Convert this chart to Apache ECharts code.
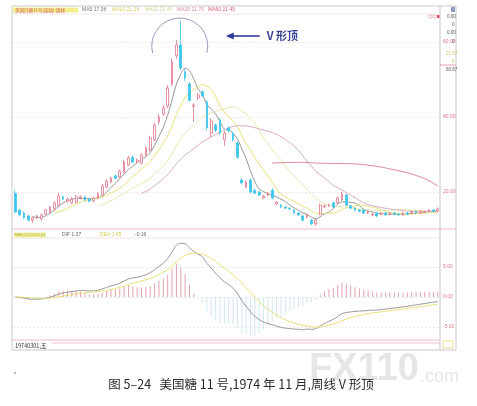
<!DOCTYPE html>
<html><head><meta charset="utf-8">
<script src="https://cdn.jsdelivr.net/npm/echarts@6/dist/echarts.min.js"></script>
<style>html,body{margin:0;padding:0;background:#fff}#c{width:477px;height:406px}</style>
</head><body><div id="c"></div>
<script>
const weeks = ["1974-03-01","1974-03-08","1974-03-15","1974-03-22","1974-03-29","1974-04-05","1974-04-12","1974-04-19","1974-04-26","1974-05-03",
"1974-05-10","1974-05-17","1974-05-24","1974-05-31","1974-06-07","1974-06-14","1974-06-21","1974-06-28","1974-07-05","1974-07-12",
"1974-07-19","1974-07-26","1974-08-02","1974-08-09","1974-08-16","1974-08-23","1974-08-30","1974-09-06","1974-09-13","1974-09-20",
"1974-09-27","1974-10-04","1974-10-11","1974-10-18","1974-10-25","1974-11-01","1974-11-08","1974-11-15","1974-11-22","1974-11-29",
"1974-12-06","1974-12-13","1974-12-20","1974-12-27","1975-01-03","1975-01-10","1975-01-17","1975-01-24","1975-01-31","1975-02-07",
"1975-02-14","1975-02-21","1975-02-28","1975-03-07","1975-03-14","1975-03-21","1975-03-28","1975-04-04","1975-04-11","1975-04-18",
"1975-04-25","1975-05-02","1975-05-09","1975-05-16","1975-05-23","1975-05-30","1975-06-06","1975-06-13","1975-06-20","1975-06-27",
"1975-07-04","1975-07-11","1975-07-18","1975-07-25","1975-08-01","1975-08-08","1975-08-15","1975-08-22","1975-08-29","1975-09-05",
"1975-09-12","1975-09-19","1975-09-26","1975-10-03","1975-10-10","1975-10-17","1975-10-24","1975-10-31","1975-11-07","1975-11-14",
"1975-11-21","1975-11-28","1975-12-05","1975-12-12","1975-12-19","1975-12-26","1976-01-02","1976-01-09"];

const openP = [19.7,15.2,14.4,13.6,12.5,13.1,12.8,14.1,14.7,15.5,
16.3,18.7,17.6,17.1,17.3,18.4,18.7,18.1,17.6,18.4,
19.2,21.3,22.7,24.3,24.0,25.3,27.2,29.3,28.0,27.7,
29.9,31.2,33.9,38.7,40.8,42.9,48.8,56.3,59.2,52.0,
48.8,42.9,45.1,46.7,44.0,35.7,37.9,39.2,33.9,37.1,
35.7,33.1,23.2,21.3,23.2,20.5,20.0,18.4,19.2,20.5,
16.8,16.5,16.0,15.7,15.2,14.4,13.6,13.3,12.5,11.5,
14.1,16.0,16.3,17.1,17.1,17.9,19.2,16.3,15.7,15.2,
15.2,14.4,13.9,14.4,14.1,14.4,14.1,14.4,14.1,13.9,
14.4,14.4,14.7,14.4,14.6,14.9,15.2,14.9];

const closeP = [14.7,13.9,13.1,12.5,13.1,13.6,13.9,15.2,16.0,17.1,
18.9,18.1,18.1,18.1,18.7,18.7,17.9,17.6,18.4,19.5,
21.6,22.9,23.7,23.7,25.6,28.0,29.1,28.0,28.5,29.9,
31.7,34.4,37.9,40.0,42.4,47.7,54.7,59.2,53.1,50.4,
44.5,43.2,45.9,45.6,37.1,38.9,36.5,35.7,35.7,36.3,
33.9,29.3,22.4,22.7,20.0,19.7,19.2,18.9,19.7,18.4,
17.3,16.0,15.7,15.5,14.4,13.9,12.5,13.9,11.5,12.5,
16.5,16.3,16.5,16.0,18.4,19.5,16.5,15.7,15.2,14.9,
14.4,14.7,14.1,13.6,14.4,13.9,14.4,14.1,13.9,14.4,
14.1,14.7,14.4,14.9,14.8,15.2,14.9,15.5];

const highP = [20.5,15.5,14.8,13.9,13.4,13.9,14.2,15.5,16.3,17.5,
19.7,19.1,18.5,18.7,19.2,19.1,19.0,18.4,18.7,19.9,
22.1,23.3,24.1,24.7,26.0,28.5,29.6,29.7,29.0,30.4,
32.2,35.0,38.5,40.8,43.2,48.5,55.6,60.5,65.6,52.8,
49.3,43.7,46.4,47.2,44.5,39.7,38.3,39.7,36.3,37.5,
36.0,33.5,23.7,23.2,23.5,20.8,20.3,19.2,20.0,21.0,
17.6,16.8,16.2,15.9,15.5,14.7,13.9,14.1,12.8,12.8,
17.0,16.6,16.9,17.4,18.8,20.0,19.5,16.6,16.0,15.5,
15.5,15.0,14.5,14.7,14.7,14.7,14.7,14.7,14.4,14.7,
14.7,15.0,15.0,15.2,15.0,15.5,15.4,15.9];

const lowP = [14.4,13.6,12.8,12.2,11.7,12.8,12.5,13.9,14.4,15.2,
16.0,17.8,17.2,16.8,17.0,18.0,17.6,17.2,17.3,18.1,
18.9,21.0,22.4,23.4,23.7,25.0,26.9,27.6,27.6,27.3,
29.5,30.8,33.5,38.0,40.3,42.4,48.3,55.5,52.5,49.6,
44.0,38.7,44.5,45.3,36.5,34.7,36.0,35.2,32.3,36.0,
33.5,28.8,22.0,21.0,19.7,19.5,18.9,18.1,18.9,18.1,
16.5,15.7,15.5,15.2,14.1,13.6,12.2,13.0,11.2,11.0,
13.8,15.7,16.0,15.7,16.8,17.6,16.2,15.4,14.9,14.6,
14.1,14.1,13.5,13.3,13.8,13.6,13.8,13.8,13.6,13.6,
13.8,14.1,14.1,14.1,14.4,14.7,14.6,14.6];

const priceTicks = [20, 40, 60];
const macdTicks = [-5, 0, 5];
const maPeriods = [5, 10, 20, 30, 60];
const maColors = ['#8c8c8c', '#e6dc6a', '#dfe6a6', '#d7a0bc', '#d9788f'];
const headerLabels = ['MA5 17.38', 'MA10 21.24', 'MA20 21.45', 'MA30 21.76', 'MA60 21.45'];
const macdLabels = ['DIF 1.37', 'DEA 1.45', '-0.16'];
const peakIndex = 38;

function movingAverage(n) {
  return closeP.map((c, i) => {
    if (i < n - 1) return '-';
    let s = 0;
    for (let k = i - n + 1; k <= i; k++) s += closeP[k];
    return +(s / n).toFixed(3);
  });
}
function ema(arr, n) {
  const k = 2 / (n + 1), out = [];
  arr.forEach((v, i) => out.push(i === 0 ? v : out[i - 1] + k * (v - out[i - 1])));
  return out;
}
const e12 = ema(closeP, 12), e26 = ema(closeP, 26);
const dif = e12.map((v, i) => v - e26[i]);
const dea = ema(dif, 9);
const hist = dif.map((v, i) => 2 * (v - dea[i]));

const kData = openP.map((o, i) => [o, closeP[i], lowP[i], highP[i]]);

const chart = echarts.init(document.getElementById('c'), null, {renderer: 'canvas'});

const maSeries = maPeriods.map((p, j) => ({
  type: 'line', name: 'MA' + p, data: movingAverage(p), xAxisIndex: 0, yAxisIndex: 0,
  showSymbol: false, smooth: 0.3, silent: true, z: 3,
  lineStyle: {color: maColors[j], width: 0.9}
}));

const font = 'Liberation Sans';
const smallTxt = (t, x, y, fill, size, fam) => ({type: 'text', x, y, silent: true,
  style: {text: t, fill, fontSize: size || 5, fontFamily: fam || font, verticalAlign: 'middle'}});

const frame = [
  {type: 'rect', shape: {x: 12, y: 6, width: 444, height: 344}, style: {fill: 'none', stroke: '#c9c9c9', lineWidth: 1}, silent: true},
  {type: 'line', shape: {x1: 440, y1: 6, x2: 440, y2: 350}, style: {stroke: '#b8b8b8', lineWidth: 0.8}, silent: true},
  {type: 'line', shape: {x1: 12, y1: 14, x2: 440, y2: 14}, style: {stroke: '#ecd6dc', lineWidth: 0.6}, silent: true},
  {type: 'line', shape: {x1: 12, y1: 229, x2: 456, y2: 229}, style: {stroke: '#e7a9b6', lineWidth: 0.8}, silent: true},
  {type: 'line', shape: {x1: 12, y1: 238, x2: 440, y2: 238}, style: {stroke: '#ecd0d6', lineWidth: 0.6}, silent: true},
  {type: 'line', shape: {x1: 12, y1: 340, x2: 440, y2: 340}, style: {stroke: '#e7a9b6', lineWidth: 0.8}, silent: true},
  {type: 'line', shape: {x1: 52, y1: 343, x2: 440, y2: 343}, style: {stroke: '#e9b3bf', lineWidth: 0.8}, silent: true},
  {type: 'line', shape: {x1: 440, y1: 65, x2: 456, y2: 65}, style: {stroke: '#e58a9a', lineWidth: 0.8}, silent: true},
  {type: 'rect', shape: {x: 443, y: 341, width: 10, height: 7}, style: {fill: 'none', stroke: '#e8dc70', lineWidth: 0.8}, silent: true},
  {type: 'rect', shape: {x: 451, y: 7, width: 4, height: 5}, style: {fill: '#8f9cc4'}, silent: true},
  {type: 'rect', shape: {x: 429, y: 15, width: 3, height: 3}, style: {fill: 'none', stroke: '#d9a0a8', lineWidth: 0.6}, silent: true},
  {type: 'rect', shape: {x: 433, y: 15, width: 3, height: 3}, style: {fill: 'none', stroke: '#d9a0a8', lineWidth: 0.6}, silent: true},
  {type: 'rect', shape: {x: 437, y: 15, width: 2.5, height: 3}, style: {fill: '#e05060'}, silent: true},
  {type: 'rect', shape: {x: 13, y: 7.5, width: 65, height: 5}, style: {fill: '#f3ee8a'}, silent: true},
  smallTxt('美国白糖11号(连续)-周线', 15, 10, '#d85a6a', 4.5, 'Noto Sans CJK SC'),
  smallTxt(headerLabels[0], 82, 10, '#777'),
  smallTxt(headerLabels[1], 112, 10, '#d8cc5a'),
  smallTxt(headerLabels[2], 145, 10, '#cfd68a'),
  smallTxt(headerLabels[3], 177, 10, '#d890b0'),
  smallTxt(headerLabels[4], 208, 10, '#e0607a'),
  smallTxt('0.00', 447, 17, '#555', 4.5),
  smallTxt('0', 452, 25, '#555', 4.5),
  smallTxt('0.00', 447, 33, '#555', 4.5),
  smallTxt('0', 452, 42, '#555', 4.5),
  smallTxt('21.57', 446, 54, '#cfc45e', 4.5),
  smallTxt('0', 452, 62, '#cfc45e', 4.5),
  smallTxt('60.67', 446, 70, '#555', 4.5),
  {type: 'rect', shape: {x: 14, y: 232.5, width: 32, height: 5}, style: {fill: '#eef0a0'}, silent: true},
  smallTxt('MACD(12,26,9)', 15, 235, '#b8b040', 4.3),
  smallTxt(macdLabels[0], 62, 235, '#666'),
  smallTxt(macdLabels[1], 100, 235, '#d8cc5a'),
  smallTxt(macdLabels[2], 135, 235, '#666'),
  smallTxt('19740301,五', 15, 345.5, '#333', 5.5, 'Noto Sans CJK SC'),
  {type: 'text', x: 241, y: 384, silent: true, style: {text: '图 5–24   美国糖 11 号,1974 年 11 月,周线 V 形顶', fill: '#2a2a2a', fontSize: 12.5, fontFamily: 'Noto Sans CJK SC', align: 'center', verticalAlign: 'middle'}},
  {type: 'text', x: 309, y: 370, silent: true, z: -1, style: {text: 'FX110', fill: '#e6e6e6', fontSize: 38, fontWeight: 'bold', fontFamily: 'Liberation Sans', verticalAlign: 'middle'}},
  {type: 'text', x: 420, y: 377, silent: true, z: -1, style: {text: '.com', fill: '#e6e6e6', fontSize: 18, fontFamily: 'Liberation Sans', verticalAlign: 'middle'}},
  {type: 'circle', shape: {cx: 15, cy: 373, r: 0.8}, style: {fill: '#666'}, silent: true}
];

chart.setOption({
  animation: false,
  backgroundColor: '#ffffff',
  grid: [
    {left: 13, right: 37, top: 15, height: 213},
    {left: 13, right: 37, top: 240, height: 98}
  ],
  xAxis: [
    {type: 'category', data: weeks, gridIndex: 0, boundaryGap: true,
     axisLine: {show: false}, axisTick: {show: false}, axisLabel: {show: false}, splitLine: {show: false}},
    {type: 'category', data: weeks, gridIndex: 1, boundaryGap: true,
     axisLine: {show: false}, axisTick: {show: false}, axisLabel: {show: false}, splitLine: {show: false}}
  ],
  yAxis: [
    {type: 'value', gridIndex: 0, position: 'right', min: 10.4, max: 67.2,
     axisLine: {show: false},
     axisTick: {show: false, customValues: priceTicks},
     axisLabel: {customValues: priceTicks, formatter: v => v.toFixed(2), color: '#e07585', fontSize: 5, margin: 3, fontFamily: font},
     splitLine: {show: true, lineStyle: {color: '#ead2d8', type: [2, 2], width: 0.6}}},
    {type: 'value', gridIndex: 1, position: 'right', min: -6.83, max: 9.5,
     axisLine: {show: false},
     axisTick: {show: false, customValues: macdTicks},
     axisLabel: {customValues: macdTicks, formatter: v => v.toFixed(2), color: '#e07585', fontSize: 5, margin: 3, fontFamily: font},
     splitLine: {show: true, lineStyle: {color: '#d8d8d8', type: [2, 2], width: 0.6}}}
  ],
  series: [
    {type: 'candlestick', name: 'K', data: kData, xAxisIndex: 0, yAxisIndex: 0, barMaxWidth: 3, z: 4,
     itemStyle: {color: '#ffffff', color0: '#3cc6ea', borderColor: '#e2768a', borderColor0: '#3cc6ea', borderWidth: 0.8}},
    ...maSeries,
    {type: 'bar', name: 'MACD', data: hist.map(v => ({value: +v.toFixed(3), itemStyle: {color: v >= 0 ? '#e8a0ac' : '#cfe8ee'}})),
     xAxisIndex: 1, yAxisIndex: 1, barWidth: 1, silent: true},
    {type: 'line', name: 'DIF', data: dif.map(v => +v.toFixed(3)), xAxisIndex: 1, yAxisIndex: 1, showSymbol: false, smooth: 0.3, silent: true,
     lineStyle: {color: '#8c8c8c', width: 0.9}},
    {type: 'line', name: 'DEA', data: dea.map(v => +v.toFixed(3)), xAxisIndex: 1, yAxisIndex: 1, showSymbol: false, smooth: 0.3, silent: true,
     lineStyle: {color: '#e6dc6a', width: 0.9}}
  ],
  graphic: frame
});

const pk = chart.convertToPixel({gridIndex: 0}, [weeks[peakIndex], highP[peakIndex]]);
const cx = pk[0] - 1, cy = pk[1] + 25, r = 28;
const ay = pk[1] + 15;
const annot = [
  {type: 'arc', shape: {cx, cy, r, startAngle: 2.89, endAngle: 6.53, clockwise: true}, style: {stroke: '#8a90b4', lineWidth: 0.9, fill: 'none'}, silent: true},
  {type: 'line', shape: {x1: cx + 52, y1: ay, x2: cx + 80, y2: ay}, style: {stroke: '#2f3c9e', lineWidth: 1.6}, silent: true},
  {type: 'polygon', shape: {points: [[cx + 46, ay], [cx + 54, ay - 3.5], [cx + 54, ay + 3.5]]}, style: {fill: '#2f3c9e'}, silent: true},
  {type: 'text', x: cx + 87, y: ay, silent: true, style: {text: 'V 形顶', fill: '#3a4490', fontSize: 11, fontWeight: 'bold', fontFamily: 'Noto Sans CJK SC', verticalAlign: 'middle'}}
];
chart.setOption({graphic: frame.concat(annot)});
</script>
</body></html>
